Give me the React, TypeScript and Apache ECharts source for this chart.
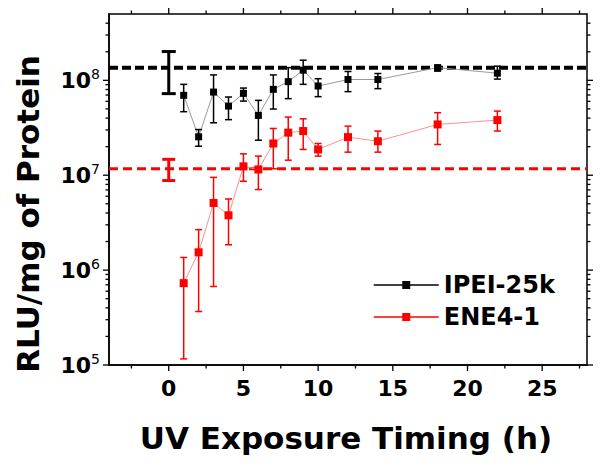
import React, { useEffect, useRef } from "react";
import * as echarts from "echarts";

// ---- data ----
const timeHours = [1, 2, 3, 4, 5, 6, 7, 8, 9, 10, 12, 14, 18, 22];

const ipeiMean = [6.95e7, 2.54e7, 7.52e7, 5.35e7, 7.29e7, 4.27e7, 8.04e7, 9.68e7, 1.28e8, 8.71e7, 1.02e8, 1.02e8, 1.36e8, 1.19e8];
const ipeiUpper = [9.07e7, 3.03e7, 1.14e8, 6.67e7, 8.29e7, 6.15e7, 1.14e8, 1.36e8, 1.63e8, 1.04e8, 1.24e8, 1.18e8, 1.44e8, 1.41e8];
const ipeiLower = [4.67e7, 2.02e7, 3.57e7, 3.85e7, 6.04e7, 2.34e7, 4.98e7, 6.41e7, 9.07e7, 6.73e7, 7.6e7, 8.17e7, 1.25e8, 1.03e8];

const eneMean = [7.29e5, 1.54e6, 5.1e6, 3.78e6, 1.24e7, 1.15e7, 2.16e7, 2.81e7, 2.92e7, 1.87e7, 2.52e7, 2.28e7, 3.43e7, 3.81e7];
const eneUpper = [1.36e6, 2.67e6, 9.5e6, 5.62e6, 1.68e7, 1.59e7, 3.11e7, 4.1e7, 3.93e7, 2.16e7, 3.29e7, 2.92e7, 4.56e7, 4.74e7];
const eneLower = [1.16e5, 3.66e5, 6.72e5, 1.85e6, 8.63e6, 7.06e6, 1.17e7, 1.44e7, 1.87e7, 1.59e7, 1.75e7, 1.75e7, 2.11e7, 2.92e7];

const controlTime = [0];
const ipeiControlMean = [1.36e8];
const ipeiControlLower = [7.24e7];
const ipeiControlUpper = [2.01e8];
const eneControlMean = [1.17e7];
const eneControlLower = [8.79e6];
const eneControlUpper = [1.47e7];

const seriesNames = ["IPEI-25k", "ENE4-1"];
const xMajorTicks = [0, 5, 10, 15, 20, 25];
const xMinorTicks = [-2.5, 2.5, 7.5, 12.5, 17.5, 22.5, 27.5];
const yExponents = [5, 6, 7, 8];

const X_MIN = -4;
const X_MAX = 28;
const Y_MIN = 1e5;
const Y_MAX = 5e8;

const FONT = "DejaVu Sans";
const RED = "#ff0000";

function errorBars(name: string, xs: number[], lows: number[], highs: number[], color: string, lw: number, capW: number, z: number) {
  return {
    type: "custom",
    name,
    coordinateSystem: "cartesian2d",
    silent: true,
    z,
    data: xs.map((x, i) => [x, lows[i], highs[i]]),
    encode: { x: 0, y: [1, 2] },
    renderItem: (_params: any, api: any) => {
      const x = api.value(0);
      const pLo = api.coord([x, api.value(1)]);
      const pHi = api.coord([x, api.value(2)]);
      const h = capW / 2;
      const style = { stroke: color, lineWidth: lw };
      return {
        type: "group",
        children: [
          { type: "line", shape: { x1: pLo[0], y1: pLo[1], x2: pHi[0], y2: pHi[1] }, style },
          { type: "line", shape: { x1: pHi[0] - h, y1: pHi[1], x2: pHi[0] + h, y2: pHi[1] }, style },
          { type: "line", shape: { x1: pLo[0] - h, y1: pLo[1], x2: pLo[0] + h, y2: pLo[1] }, style },
        ],
      };
    },
  };
}

export default function App() {
  const ref = useRef<HTMLDivElement>(null);
  useEffect(() => {
    const chart = echarts.init(ref.current!, undefined, { renderer: "svg" });

    const yMinor: number[] = [];
    yExponents.forEach((e) => {
      for (let k = 2; k <= 9; k++) {
        const v = k * Math.pow(10, e);
        if (v < Y_MAX) yMinor.push(v);
      }
    });
    const yMajor = yExponents.map((e) => Math.pow(10, e));

    const tickSeries = {
      type: "custom",
      name: "ticks",
      coordinateSystem: "cartesian2d",
      silent: true,
      clip: false,
      z: 20,
      data: [[0, Y_MIN]],
      renderItem: (_p: any, api: any) => {
        const ch: any[] = [];
        const st = { stroke: "#000", lineWidth: 1.3 };
        const add = (x1: number, y1: number, x2: number, y2: number) =>
          ch.push({ type: "line", shape: { x1, y1, x2, y2 }, style: st });
        const yb = api.coord([X_MIN, Y_MIN])[1];
        const yt = api.coord([X_MIN, Y_MAX])[1];
        const xl = api.coord([X_MIN, Y_MIN])[0];
        const xr = api.coord([X_MAX, Y_MIN])[0];
        xMajorTicks.forEach((v) => {
          const px = api.coord([v, Y_MIN])[0];
          add(px, yb, px, yb + 6);
          add(px, yt, px, yt - 6);
        });
        xMinorTicks.forEach((v) => {
          const px = api.coord([v, Y_MIN])[0];
          add(px, yb, px, yb + 3.5);
          add(px, yt, px, yt - 3.5);
        });
        yMajor.forEach((v) => {
          const py = api.coord([X_MIN, v])[1];
          add(xl, py, xl - 6, py);
          add(xr, py, xr + 6, py);
        });
        yMinor.forEach((v) => {
          const py = api.coord([X_MIN, v])[1];
          add(xl, py, xl - 3.5, py);
          add(xr, py, xr + 3.5, py);
        });
        return { type: "group", children: ch };
      },
    };

    const option: any = {
      animation: false,
      backgroundColor: "#fff",
      grid: {
        left: 109,
        right: 14,
        top: 14,
        bottom: 103,
        show: true,
        borderColor: "#000",
        borderWidth: 1.5,
        backgroundColor: "transparent",
      },
      xAxis: {
        type: "value",
        min: X_MIN,
        max: X_MAX,
        splitNumber: 6,
        axisLine: { show: true, onZero: false, lineStyle: { color: "#000", width: 1.5 } },
        axisTick: { show: false },
        splitLine: { show: false },
        axisLabel: {
          margin: 12,
          color: "#000",
          fontFamily: FONT,
          fontWeight: "bold",
          fontSize: 22,
          formatter: (v: number) => (xMajorTicks.indexOf(v) >= 0 ? String(v) : ""),
        },
      },
      yAxis: {
        type: "log",
        logBase: 10,
        min: Y_MIN,
        max: Y_MAX,
        splitNumber: 5,
        axisLine: { show: true, onZero: false, lineStyle: { color: "#000", width: 1.5 } },
        axisTick: { show: false },
        splitLine: { show: false },
        axisLabel: {
          margin: 9,
          color: "#000",
          formatter: (v: number) => {
            const e = Math.log10(v);
            const r = Math.round(e);
            return Math.abs(e - r) < 1e-6 ? `{b|10}{s|${r}}` : "";
          },
          rich: {
            b: { fontFamily: FONT, fontWeight: "bold", fontSize: 22, lineHeight: 26, color: "#000" },
            s: { fontFamily: FONT, fontWeight: "normal", fontSize: 14, lineHeight: 14, verticalAlign: "top", color: "#000" },
          },
        },
      },
      legend: {
        orient: "vertical",
        left: 368,
        top: 268,
        itemWidth: 65,
        itemHeight: 10,
        itemGap: 8,
        textStyle: { fontFamily: FONT, fontWeight: "bold", fontSize: 24, color: "#000" },
        data: [
          { name: seriesNames[0], lineStyle: { color: "#000", width: 1.5 } },
          { name: seriesNames[1], lineStyle: { color: RED, width: 1.5 } },
        ],
      },
      graphic: [
        {
          type: "text",
          x: 28,
          y: 214,
          rotation: Math.PI / 2,
          style: {
            text: "RLU/mg of Protein",
            fontFamily: FONT,
            fontWeight: "bold",
            fontSize: 31,
            fill: "#000",
            align: "center",
            verticalAlign: "middle",
          },
        },
        {
          type: "text",
          x: 346,
          y: 438,
          style: {
            text: "UV Exposure Timing (h)",
            fontFamily: FONT,
            fontWeight: "bold",
            fontSize: 31,
            fill: "#000",
            align: "center",
            verticalAlign: "middle",
          },
        },
      ],
      series: [
        {
          type: "line",
          name: "ipei-ref",
          silent: true,
          z: 1,
          symbol: "none",
          data: [[X_MIN, ipeiControlMean[0]], [X_MAX, ipeiControlMean[0]]],
          lineStyle: { color: "#000", width: 4, type: [9, 4] },
        },
        {
          type: "line",
          name: "ene-ref",
          silent: true,
          z: 1,
          symbol: "none",
          data: [[X_MIN, eneControlMean[0]], [X_MAX, eneControlMean[0]]],
          lineStyle: { color: RED, width: 3, type: [9, 5] },
        },
        errorBars("ipei-ctrl-err", controlTime, ipeiControlLower, ipeiControlUpper, "#000", 3, 14, 3),
        errorBars("ene-ctrl-err", controlTime, eneControlLower, eneControlUpper, RED, 3, 13, 3),
        {
          type: "line",
          name: seriesNames[0],
          z: 4,
          symbol: "rect",
          symbolSize: 7,
          data: timeHours.map((x, i) => [x, ipeiMean[i]]),
          itemStyle: { color: "#000" },
          lineStyle: { color: "#999", width: 1 },
        },
        {
          type: "line",
          name: seriesNames[1],
          z: 4,
          symbol: "rect",
          symbolSize: 8,
          data: timeHours.map((x, i) => [x, eneMean[i]]),
          itemStyle: { color: RED },
          lineStyle: { color: "#ff8f8f", width: 1 },
        },
        errorBars("ipei-err", timeHours, ipeiLower, ipeiUpper, "#000", 1.5, 7, 5),
        errorBars("ene-err", timeHours, eneLower, eneUpper, RED, 1.5, 7, 5),
        tickSeries,
      ],
    };

    chart.setOption(option);
    return () => chart.dispose();
  }, []);

  return (
    <div
      ref={ref}
      style={{ position: "absolute", left: 0, top: 0, width: 601, height: 468, background: "#fff" }}
    />
  );
}
